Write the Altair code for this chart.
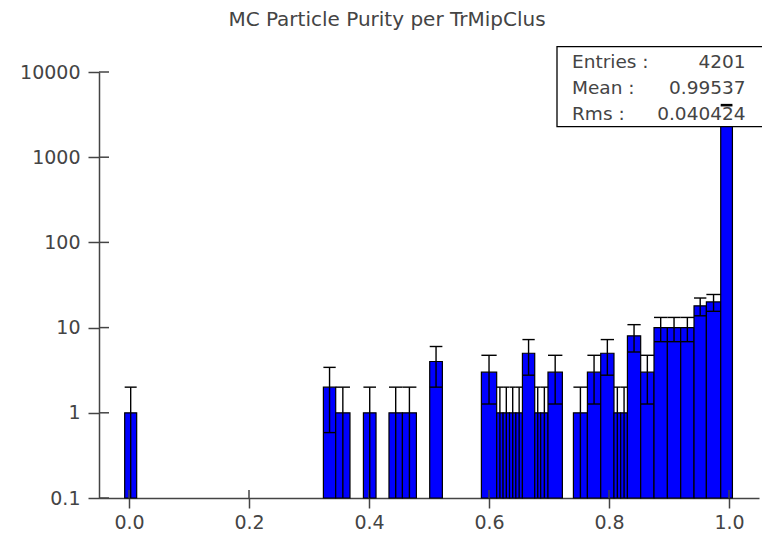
import altair as alt
import pandas as pd

# ---- data (bin edges in purity units, entries) ----
bin_lo = [-0.0072, 0.3240, 0.3445, 0.3907, 0.4333, 0.4557, 0.5012, 0.5873,
          0.6128, 0.6235, 0.6342, 0.6448, 0.6557, 0.6762, 0.6862, 0.6983,
          0.7407, 0.7640, 0.7862, 0.8083, 0.8195, 0.8307, 0.8528, 0.8750,
          0.8973, 0.9195, 0.9417, 0.9623, 0.9862]
bin_hi = [0.0128, 0.3445, 0.3683, 0.4117, 0.4557, 0.4790, 0.5223, 0.6128,
          0.6235, 0.6342, 0.6448, 0.6557, 0.6762, 0.6862, 0.6983, 0.7223,
          0.7640, 0.7862, 0.8083, 0.8195, 0.8307, 0.8528, 0.8750, 0.8973,
          0.9195, 0.9417, 0.9623, 0.9862, 1.0057]
counts = [1, 2, 1, 1, 1, 1, 4, 3,
          1, 1, 1, 1, 5, 1, 1, 3,
          1, 3, 5, 1, 1, 8, 3, 10,
          10, 10, 18, 20, 4083]

x_ticks = [0.0, 0.2, 0.4, 0.6, 0.8, 1.0]
y_ticks = [0.1, 1, 10, 100, 1000, 10000]

title_text = "MC Particle Purity per TrMipClus"
stat_names = ["Entries :", "Mean :", "Rms :"]
stat_values = ["4201", "0.99537", "0.040424"]

# ---- style ----
FONT = "DejaVu Sans"
TXT = "#444444"
AX = "#444444"
W, H = 660, 426

hist = pd.DataFrame({"lo": bin_lo, "hi": bin_hi, "n": counts})

xs = alt.Scale(domain=[-0.05, 1.05], nice=False, zero=False)
ys = alt.Scale(type="log", domain=[0.1, 10000], nice=False)

x_axis = alt.Axis(values=x_ticks, format=".1f", title=None, grid=False,
                  domainColor=AX, domainWidth=1.5, tickColor=AX, tickWidth=1.5,
                  tickSize=10, labelFont=FONT, labelFontSize=19, labelColor=TXT,
                  labelPadding=5)
y_axis = alt.Axis(values=y_ticks, format="~g", title=None, grid=False,
                  domainColor=AX, domainWidth=1.5, tickColor=AX, tickWidth=1.5,
                  tickSize=11, labelFont=FONT, labelFontSize=19, labelColor=TXT,
                  labelPadding=8)

base = alt.Chart(hist).transform_calculate(
    mid="(datum.lo + datum.hi) / 2",
    eup="datum.n + sqrt(datum.n)",
    edn="max(datum.n - sqrt(datum.n), 0.1)",
)

bars = base.mark_rect(fill="#0000ff", stroke="black", strokeWidth=1.2).encode(
    x=alt.X("lo:Q", scale=xs, axis=x_axis),
    x2="hi:Q",
    y=alt.Y("n:Q", scale=ys, axis=y_axis),
    y2=alt.datum(0.1),
)

err = base.mark_rule(color="black", strokeWidth=1.4).encode(
    x=alt.X("mid:Q", scale=xs), y=alt.Y("edn:Q", scale=ys), y2="eup:Q"
)
cap_up = base.mark_rule(color="black", strokeWidth=1.4).encode(
    x=alt.X("lo:Q", scale=xs), x2="hi:Q", y=alt.Y("eup:Q", scale=ys)
)
cap_dn = base.transform_filter("datum.n - sqrt(datum.n) > 0.1").mark_rule(
    color="black", strokeWidth=1.4
).encode(x=alt.X("lo:Q", scale=xs), x2="hi:Q", y=alt.Y("edn:Q", scale=ys))

# inner halves of the crossing ticks
ytick_in = alt.Chart(pd.DataFrame({"t": y_ticks})).mark_rule(
    color=AX, strokeWidth=1.5
).encode(y=alt.Y("t:Q", scale=ys), x=alt.value(0), x2=alt.value(10))
xtick_in = alt.Chart(pd.DataFrame({"t": x_ticks})).mark_rule(
    color=AX, strokeWidth=1.5
).encode(x=alt.X("t:Q", scale=xs), y=alt.value(H), y2=alt.value(H - 8))

# statistics box
box = alt.Chart(pd.DataFrame({"k": [0]})).mark_rect(
    fill="white", stroke="black", strokeWidth=1.3
).encode(x=alt.value(458), x2=alt.value(680), y=alt.value(-25.3), y2=alt.value(54.7))

stat_layers = []
for i, (nm, vv) in enumerate(zip(stat_names, stat_values)):
    stat_layers.append(
        alt.Chart(pd.DataFrame({"s": [nm]})).mark_text(
            align="left", baseline="alphabetic", font=FONT, fontSize=18.5, color=TXT
        ).encode(text="s:N", x=alt.value(473), y=alt.value(-3.7 + 26 * i))
    )
    stat_layers.append(
        alt.Chart(pd.DataFrame({"s": [vv]})).mark_text(
            align="right", baseline="alphabetic", font=FONT, fontSize=18.5, color=TXT
        ).encode(text="s:N", x=alt.value(646.5), y=alt.value(-3.7 + 26 * i))
    )

chart = alt.layer(
    bars, box, xtick_in, ytick_in, err, cap_up, cap_dn, *stat_layers
).properties(
    width=W,
    height=H,
    background="white",
    autosize=alt.AutoSizeParams(type="none"),
    padding={"left": 99, "top": 72, "right": 3, "bottom": 39},
    title=alt.TitleParams(
        text=title_text, font=FONT, fontSize=20, fontWeight="normal",
        color=TXT, anchor="middle", dx=-42, offset=16
    ),
).configure_view(stroke=None)

chart.save("out.html", embed_options={"renderer": "svg", "actions": False})
